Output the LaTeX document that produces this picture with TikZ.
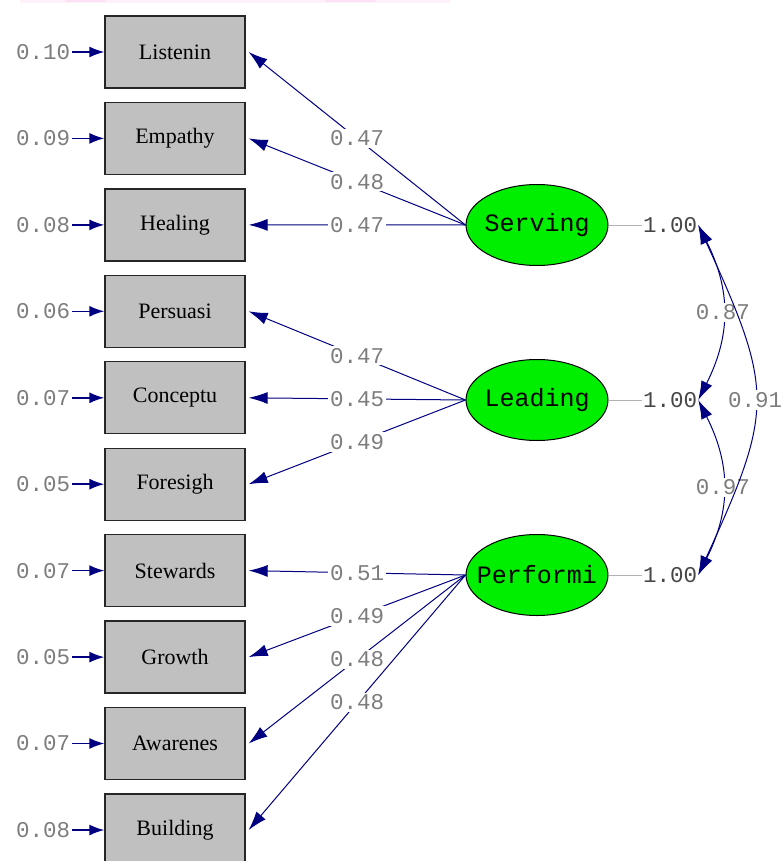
\documentclass[tikz,border=0pt]{standalone}
\usepackage{fontspec}
\setmainfont{Liberation Serif}
\setmonofont{Liberation Mono}
\usetikzlibrary{arrows.meta,shapes.geometric,calc}
\definecolor{navy}{RGB}{0,0,128}
\definecolor{boxgray}{RGB}{192,192,192}
\definecolor{latgreen}{RGB}{0,238,0}
\definecolor{numgray}{RGB}{125,125,125}
\definecolor{onegray}{RGB}{70,70,70}
\definecolor{haze}{RGB}{252,215,240}

\begin{document}
\begin{tikzpicture}[x=1pt,y=-1pt,
  obs/.style={draw=black!85, fill=boxgray, line width=1.3pt,
    minimum width=140pt, minimum height=72pt, inner sep=0pt,
    font=\fontsize{22}{22}\selectfont},
  lat/.style={ellipse, draw=black, fill=latgreen, line width=1pt,
    minimum width=142pt, minimum height=81pt, inner sep=0pt,
    font=\ttfamily\fontsize{25}{25}\selectfont},
  num/.style={font=\ttfamily\fontsize{22.5}{23}\selectfont, text=numgray, inner sep=2pt},
  onenum/.style={font=\ttfamily\fontsize{22.5}{23}\selectfont, text=onegray, inner sep=1pt},
  lbl/.style={num, fill=white},
  load/.style={navy, line width=1pt, -{Latex[length=19pt,width=12pt]}},
  err/.style={navy, line width=1.6pt, -{Latex[length=15pt,width=11pt]}},
  cov/.style={navy, line width=1pt, {Latex[length=19pt,width=12pt]}-{Latex[length=19pt,width=12pt]}},
  varline/.style={draw=black!30, line width=1pt}
]
\useasboundingbox (0,0) rectangle (782,861);

% faint tint along the top edge
\fill[haze, opacity=0.35] (20,0) rectangle (450,3);
\fill[haze, opacity=0.6] (65,0) rectangle (105,2.5);
\fill[haze, opacity=0.6] (325,0) rectangle (375,2.5);

% observed indicators
\node[obs] (L1)  at (175, 52.0) {Listenin};
\node[obs] (L2)  at (175,138.4) {Empathy};
\node[obs] (L3)  at (175,224.9) {Healing};
\node[obs] (L4)  at (175,311.3) {Persuasi};
\node[obs] (L5)  at (175,397.8) {Conceptu};
\node[obs] (L6)  at (175,484.2) {Foresigh};
\node[obs] (L7)  at (175,570.6) {Stewards};
\node[obs] (L8)  at (175,657.1) {Growth};
\node[obs] (L9)  at (175,743.5) {Awarenes};
\node[obs] (L10) at (175,830.0) {Building};

% error variances
\foreach \i/\v in {1/0.10,2/0.09,3/0.08,4/0.06,5/0.07,6/0.05,7/0.07,8/0.05,9/0.07,10/0.08}{
  \node[num, anchor=east] (e\i) at ($(L\i.west)+(-32,0)$) {\v};
  \draw[err] (e\i.east) -- (L\i.west);
}

% latent factors (fixed size, text does not widen the ellipse)
\node[lat] (S) at (537,225) {\makebox[0pt]{\raisebox{-1pt}{Serving}}};
\node[lat] (D) at (537,400) {\makebox[0pt]{\raisebox{-1pt}{Leading}}};
\node[lat] (P) at (537,575) {\makebox[0pt]{\raisebox{-1pt}{Performi}}};

% loadings
\draw[load] (S.west) -- node[lbl]{0.47} ([xshift=3pt]L1.east);
\draw[load] (S.west) -- node[lbl]{0.48} ([xshift=3pt]L2.east);
\draw[load] (S.west) -- node[lbl]{0.47} ([xshift=3pt]L3.east);
\draw[load] (D.west) -- node[lbl]{0.47} ([xshift=3pt]L4.east);
\draw[load] (D.west) -- node[lbl]{0.45} ([xshift=3pt]L5.east);
\draw[load] (D.west) -- node[lbl]{0.49} ([xshift=3pt]L6.east);
\draw[load] (P.west) -- node[lbl]{0.51} ([xshift=3pt]L7.east);
\draw[load] (P.west) -- node[lbl]{0.49} ([xshift=3pt]L8.east);
\draw[load] (P.west) -- node[lbl]{0.48} ([xshift=3pt]L9.east);
\draw[load] (P.west) -- node[lbl]{0.48} ([xshift=3pt]L10.east);

% factor variances
\node[onenum] (vS) at (670,225) {1.00};
\node[onenum] (vD) at (670,400) {1.00};
\node[onenum] (vP) at (670,575) {1.00};
\draw[varline] (S.east) -- (vS.west);
\draw[varline] (D.east) -- (vD.west);
\draw[varline] (P.east) -- (vP.west);

% factor correlations
\draw[cov] (vS.east) .. controls (731,290) and (731,335) .. node[lbl]{0.87} (vD.east);
\draw[cov] (vD.east) .. controls (731,465) and (731,510) .. node[lbl]{0.97} (vP.east);
\draw[cov] (vS.east) .. controls (774,390) and (774,410) .. node[lbl]{0.91} (vP.east);
\end{tikzpicture}
\end{document}
